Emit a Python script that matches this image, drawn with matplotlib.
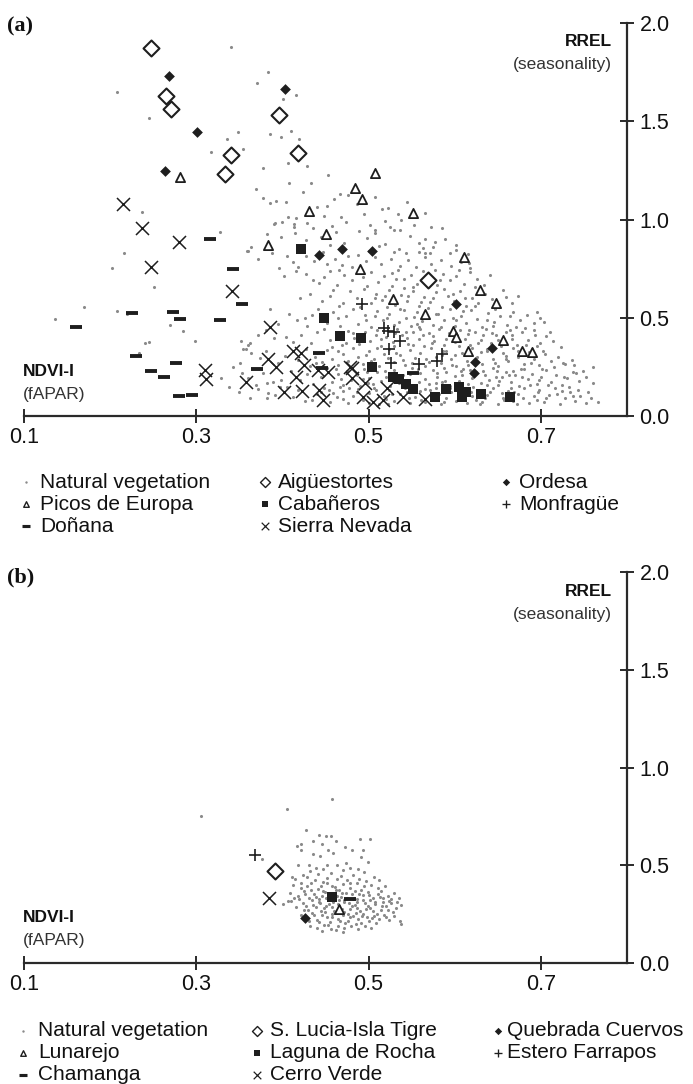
import numpy as np
import matplotlib.pyplot as plt

plt.rcParams['font.family'] = ['Liberation Sans', 'DejaVu Sans']

# ---------------- data, panel (a): Spain ----------------
nv_a = [
    (0.208, 1.65), (0.245, 1.515), (0.340, 1.876), (0.383, 1.752), (0.370, 1.695), (0.416, 1.634), (0.401, 1.613),
    (0.348, 1.444), (0.336, 1.41), (0.354, 1.359), (0.317, 1.342), (0.385, 1.435), (0.398, 1.418), (0.410, 1.452),
    (0.419, 1.408), (0.378, 1.264), (0.407, 1.286), (0.429, 1.272), (0.453, 1.228), (0.408, 1.184), (0.433, 1.184),
    (0.424, 1.138), (0.369, 1.153), (0.378, 1.111), (0.393, 1.096), (0.404, 1.091), (0.467, 1.128), (0.460, 1.103),
    (0.237, 1.04), (0.440, 1.065), (0.476, 1.125), (0.508, 1.116), (0.516, 1.051), (0.534, 1.028), (0.538, 1.0),
    (0.566, 1.031), (0.572, 0.963), (0.385, 1.082), (0.216, 0.828), (0.202, 0.752), (0.251, 0.658), (0.170, 0.556),
    (0.208, 0.536), (0.136, 0.494), (0.220, 0.518), (0.241, 0.373), (0.245, 0.375), (0.234, 0.322), (0.269, 0.463),
    (0.285, 0.433), (0.298, 0.382), (0.327, 0.938), (0.329, 0.195), (0.338, 0.149), (0.352, 0.383), (0.362, 0.37),
    (0.358, 0.34), (0.383, 0.115), (0.397, 0.149),
    # 0.95 - 1.1
    (0.452, 1.07), (0.487, 1.08), (0.523, 1.06), (0.545, 1.09), (0.406, 1.014), (0.416, 1.009), (0.391, 0.98),
    (0.400, 0.985), (0.413, 0.963), (0.428, 0.98), (0.468, 1.011), (0.474, 0.985), (0.390, 0.977), (0.414, 0.976),
    (0.448, 1.02), (0.458, 0.965), (0.495, 1.03), (0.519, 0.99), (0.553, 0.97), (0.585, 0.955), (0.502, 0.97),
    (0.436, 0.955),
    # 0.85 - 0.95
    (0.489, 0.943), (0.507, 0.947), (0.507, 0.93), (0.525, 0.963), (0.530, 0.947), (0.536, 0.947), (0.364, 0.862),
    (0.360, 0.838), (0.519, 0.875), (0.535, 0.848), (0.544, 0.831), (0.563, 0.853), (0.566, 0.831), (0.575, 0.862),
    (0.577, 0.887), (0.566, 0.899), (0.398, 0.91), (0.415, 0.93), (0.427, 0.895), (0.445, 0.91), (0.462, 0.935),
    (0.471, 0.88), (0.498, 0.905), (0.512, 0.865), (0.548, 0.915), (0.558, 0.88), (0.589, 0.9), (0.601, 0.87),
    (0.455, 0.87), (0.382, 0.925),
    # 0.75 - 0.85
    (0.594, 0.828), (0.602, 0.845), (0.427, 0.816), (0.476, 0.816), (0.488, 0.819), (0.359, 0.841), (0.412, 0.785),
    (0.396, 0.752), (0.469, 0.768), (0.455, 0.738), (0.372, 0.80), (0.388, 0.83), (0.405, 0.815), (0.418, 0.76),
    (0.437, 0.79), (0.447, 0.835), (0.461, 0.80), (0.497, 0.79), (0.508, 0.81), (0.515, 0.775), (0.526, 0.80),
    (0.537, 0.765), (0.546, 0.795), (0.555, 0.76), (0.565, 0.81), (0.573, 0.775), (0.584, 0.795), (0.596, 0.765),
    (0.607, 0.785), (0.618, 0.755), (0.481, 0.76), (0.452, 0.775), (0.529, 0.835), (0.501, 0.84), (0.559, 0.835),
    (0.615, 0.825),
    # 0.65 - 0.75
    (0.416, 0.738), (0.436, 0.692), (0.442, 0.678), (0.402, 0.71), (0.427, 0.725), (0.448, 0.705), (0.463, 0.665),
    (0.472, 0.72), (0.481, 0.69), (0.493, 0.705), (0.503, 0.735), (0.511, 0.68), (0.518, 0.715), (0.527, 0.66),
    (0.534, 0.745), (0.541, 0.695), (0.549, 0.72), (0.556, 0.67), (0.563, 0.74), (0.571, 0.705), (0.579, 0.665),
    (0.586, 0.725), (0.594, 0.69), (0.602, 0.715), (0.611, 0.67), (0.618, 0.735), (0.626, 0.695), (0.634, 0.665),
    (0.641, 0.72), (0.498, 0.66), (0.532, 0.695), (0.577, 0.745), (0.605, 0.745), (0.466, 0.745), (0.552, 0.655),
    (0.623, 0.655), (0.656, 0.64), (0.673, 0.61),
    # 0.55 - 0.65
    (0.459, 0.641), (0.470, 0.573), (0.420, 0.599), (0.432, 0.62), (0.446, 0.585), (0.455, 0.61), (0.478, 0.635),
    (0.486, 0.60), (0.495, 0.645), (0.503, 0.575), (0.509, 0.62), (0.516, 0.59), (0.524, 0.64), (0.531, 0.565),
    (0.538, 0.615), (0.545, 0.585), (0.551, 0.635), (0.558, 0.56), (0.564, 0.605), (0.571, 0.58), (0.578, 0.63),
    (0.585, 0.555), (0.592, 0.61), (0.599, 0.585), (0.606, 0.635), (0.613, 0.56), (0.620, 0.60), (0.627, 0.575),
    (0.635, 0.62), (0.643, 0.595), (0.651, 0.555), (0.659, 0.605), (0.667, 0.575), (0.490, 0.555), (0.541, 0.65),
    (0.588, 0.645), (0.466, 0.56), (0.521, 0.555), (0.575, 0.60), (0.612, 0.60), (0.630, 0.64), (0.546, 0.61),
    (0.507, 0.60),
    # 0.45 - 0.55
    (0.426, 0.497), (0.434, 0.514), (0.386, 0.543), (0.429, 0.458), (0.395, 0.47), (0.408, 0.52), (0.417, 0.49),
    (0.441, 0.545), (0.452, 0.475), (0.459, 0.53), (0.467, 0.46), (0.474, 0.51), (0.482, 0.545), (0.488, 0.47),
    (0.496, 0.515), (0.503, 0.455), (0.510, 0.535), (0.517, 0.49), (0.524, 0.52), (0.530, 0.465), (0.537, 0.545),
    (0.543, 0.50), (0.549, 0.46), (0.556, 0.53), (0.562, 0.485), (0.569, 0.55), (0.575, 0.465), (0.581, 0.52),
    (0.588, 0.49), (0.594, 0.545), (0.600, 0.46), (0.607, 0.51), (0.613, 0.475), (0.619, 0.54), (0.626, 0.495),
    (0.632, 0.455), (0.639, 0.525), (0.646, 0.48), (0.653, 0.51), (0.661, 0.465), (0.668, 0.53), (0.676, 0.49),
    (0.684, 0.515), (0.692, 0.475), (0.699, 0.50), (0.521, 0.50), (0.553, 0.505), (0.584, 0.455), (0.610, 0.535),
    (0.647, 0.545), (0.671, 0.455), (0.497, 0.49), (0.465, 0.50), (0.535, 0.48), (0.598, 0.50), (0.637, 0.49),
    (0.558, 0.455), (0.695, 0.53), (0.704, 0.48),
    # 0.35 - 0.45
    (0.404, 0.404), (0.412, 0.378), (0.422, 0.412), (0.440, 0.426), (0.390, 0.395), (0.360, 0.361), (0.372, 0.41),
    (0.381, 0.44), (0.433, 0.37), (0.448, 0.445), (0.455, 0.385), (0.462, 0.42), (0.469, 0.36), (0.476, 0.435),
    (0.483, 0.395), (0.489, 0.365), (0.496, 0.43), (0.502, 0.38), (0.509, 0.41), (0.515, 0.355), (0.520, 0.40),
    (0.528, 0.375), (0.533, 0.445), (0.539, 0.41), (0.546, 0.365), (0.552, 0.43), (0.558, 0.39), (0.564, 0.355),
    (0.570, 0.42), (0.576, 0.38), (0.582, 0.445), (0.588, 0.36), (0.594, 0.41), (0.600, 0.375), (0.606, 0.44),
    (0.612, 0.39), (0.618, 0.36), (0.624, 0.425), (0.630, 0.385), (0.636, 0.445), (0.642, 0.37), (0.648, 0.41),
    (0.654, 0.355), (0.660, 0.43), (0.666, 0.39), (0.672, 0.36), (0.678, 0.425), (0.685, 0.385), (0.692, 0.44),
    (0.699, 0.37), (0.706, 0.405), (0.714, 0.38), (0.545, 0.395), (0.575, 0.405), (0.605, 0.355), (0.633, 0.41),
    (0.664, 0.44), (0.510, 0.44), (0.482, 0.42), (0.560, 0.445), (0.590, 0.39), (0.615, 0.415), (0.650, 0.385),
    (0.530, 0.355), (0.695, 0.355), (0.458, 0.35),
    # 0.25 - 0.35
    (0.364, 0.319), (0.354, 0.339), (0.351, 0.268), (0.374, 0.294), (0.343, 0.251), (0.381, 0.33), (0.395, 0.27),
    (0.403, 0.305), (0.418, 0.285), (0.427, 0.34), (0.432, 0.255), (0.438, 0.30), (0.446, 0.275), (0.452, 0.335),
    (0.458, 0.29), (0.464, 0.26), (0.470, 0.315), (0.476, 0.28), (0.482, 0.345), (0.488, 0.30), (0.494, 0.265),
    (0.500, 0.33), (0.506, 0.29), (0.512, 0.255), (0.518, 0.315), (0.524, 0.34), (0.530, 0.275), (0.536, 0.31),
    (0.542, 0.26), (0.548, 0.335), (0.554, 0.295), (0.560, 0.32), (0.566, 0.255), (0.572, 0.345), (0.578, 0.30),
    (0.584, 0.27), (0.590, 0.33), (0.596, 0.29), (0.602, 0.255), (0.608, 0.32), (0.614, 0.28), (0.620, 0.345),
    (0.626, 0.30), (0.632, 0.265), (0.638, 0.33), (0.644, 0.29), (0.650, 0.255), (0.656, 0.32), (0.662, 0.28),
    (0.668, 0.345), (0.674, 0.30), (0.680, 0.265), (0.686, 0.325), (0.692, 0.29), (0.698, 0.26), (0.705, 0.315),
    (0.712, 0.28), (0.720, 0.30), (0.728, 0.265), (0.736, 0.285), (0.510, 0.345), (0.540, 0.285), (0.570, 0.275),
    (0.600, 0.31), (0.630, 0.325), (0.660, 0.305), (0.690, 0.34), (0.615, 0.26), (0.585, 0.31), (0.550, 0.27),
    (0.523, 0.295), (0.497, 0.31), (0.465, 0.33), (0.440, 0.32), (0.726, 0.27), (0.760, 0.25),
    # 0.15 - 0.25
    (0.378, 0.217), (0.353, 0.217), (0.360, 0.192), (0.369, 0.158), (0.382, 0.166), (0.389, 0.175), (0.398, 0.183),
    (0.405, 0.149), (0.467, 0.149), (0.410, 0.23), (0.420, 0.185), (0.428, 0.215), (0.436, 0.165), (0.445, 0.20),
    (0.452, 0.245), (0.458, 0.175), (0.464, 0.215), (0.470, 0.16), (0.475, 0.23), (0.480, 0.185), (0.486, 0.21),
    (0.490, 0.155), (0.495, 0.24), (0.500, 0.195), (0.505, 0.165), (0.510, 0.225), (0.515, 0.18), (0.520, 0.20),
    (0.525, 0.155), (0.530, 0.235), (0.535, 0.17), (0.540, 0.21), (0.545, 0.185), (0.550, 0.245), (0.555, 0.16),
    (0.560, 0.22), (0.565, 0.19), (0.570, 0.165), (0.575, 0.235), (0.580, 0.20), (0.585, 0.175), (0.590, 0.225),
    (0.595, 0.155), (0.600, 0.205), (0.605, 0.18), (0.610, 0.24), (0.615, 0.165), (0.620, 0.195), (0.625, 0.225),
    (0.630, 0.17), (0.635, 0.21), (0.640, 0.185), (0.645, 0.245), (0.650, 0.16), (0.655, 0.20), (0.660, 0.225),
    (0.665, 0.175), (0.670, 0.21), (0.675, 0.155), (0.680, 0.24), (0.685, 0.19), (0.690, 0.215), (0.695, 0.165),
    (0.700, 0.20), (0.706, 0.235), (0.712, 0.175), (0.718, 0.21), (0.724, 0.16), (0.730, 0.195), (0.737, 0.225),
    (0.744, 0.18), (0.752, 0.20), (0.760, 0.17), (0.548, 0.215), (0.578, 0.17), (0.608, 0.21), (0.638, 0.16),
    (0.668, 0.23), (0.698, 0.185), (0.528, 0.19), (0.498, 0.225), (0.468, 0.19), (0.588, 0.245), (0.618, 0.235),
    (0.648, 0.20), (0.678, 0.20), (0.558, 0.175), (0.741, 0.22),
    # 0.05 - 0.15
    (0.350, 0.12), (0.362, 0.09), (0.372, 0.135), (0.382, 0.09), (0.391, 0.107), (0.412, 0.098), (0.434, 0.081),
    (0.459, 0.116), (0.418, 0.13), (0.426, 0.075), (0.440, 0.11), (0.448, 0.14), (0.455, 0.07), (0.463, 0.095),
    (0.470, 0.125), (0.476, 0.065), (0.482, 0.10), (0.488, 0.135), (0.494, 0.08), (0.500, 0.115), (0.506, 0.145),
    (0.512, 0.06), (0.518, 0.10), (0.524, 0.13), (0.530, 0.075), (0.536, 0.11), (0.542, 0.145), (0.548, 0.065),
    (0.554, 0.095), (0.560, 0.125), (0.566, 0.07), (0.572, 0.105), (0.578, 0.14), (0.584, 0.06), (0.590, 0.09),
    (0.596, 0.12), (0.602, 0.075), (0.608, 0.145), (0.614, 0.065), (0.620, 0.10), (0.626, 0.13), (0.632, 0.07),
    (0.638, 0.105), (0.644, 0.14), (0.650, 0.06), (0.656, 0.09), (0.662, 0.125), (0.668, 0.075), (0.674, 0.11),
    (0.680, 0.145), (0.686, 0.065), (0.692, 0.10), (0.698, 0.13), (0.704, 0.07), (0.710, 0.105), (0.716, 0.14),
    (0.722, 0.06), (0.728, 0.09), (0.734, 0.12), (0.740, 0.075), (0.746, 0.10), (0.752, 0.065), (0.758, 0.09),
    (0.766, 0.07), (0.520, 0.085), (0.545, 0.12), (0.575, 0.085), (0.605, 0.11), (0.635, 0.09), (0.665, 0.14),
    (0.695, 0.08), (0.725, 0.125), (0.500, 0.065), (0.470, 0.085), (0.445, 0.12), (0.565, 0.135), (0.595, 0.145),
    (0.625, 0.08), (0.655, 0.115),
    # extra dots in the dense core
    (0.487, 0.12), (0.493, 0.19), (0.503, 0.28), (0.509, 0.13), (0.514, 0.39), (0.519, 0.23), (0.527, 0.11),
    (0.532, 0.32), (0.538, 0.19), (0.543, 0.43), (0.547, 0.09), (0.551, 0.36), (0.557, 0.24), (0.561, 0.08),
    (0.563, 0.41), (0.567, 0.29), (0.571, 0.13), (0.574, 0.37), (0.579, 0.22), (0.582, 0.11), (0.586, 0.33),
    (0.589, 0.18), (0.593, 0.42), (0.597, 0.26), (0.601, 0.135), (0.603, 0.38), (0.607, 0.23), (0.611, 0.09),
    (0.613, 0.31), (0.617, 0.44), (0.621, 0.15), (0.623, 0.27), (0.627, 0.37), (0.629, 0.06), (0.633, 0.23),
    (0.637, 0.34), (0.641, 0.12), (0.643, 0.42), (0.647, 0.27), (0.651, 0.18), (0.653, 0.37), (0.657, 0.08),
    (0.659, 0.29), (0.663, 0.21), (0.667, 0.41), (0.669, 0.12), (0.673, 0.33), (0.677, 0.24), (0.679, 0.09),
    (0.683, 0.36), (0.687, 0.16), (0.689, 0.27), (0.693, 0.41), (0.697, 0.12), (0.701, 0.24), (0.703, 0.33),
    (0.708, 0.16), (0.711, 0.43), (0.715, 0.25), (0.719, 0.11), (0.723, 0.35), (0.727, 0.20), (0.733, 0.15),
    (0.739, 0.26), (0.743, 0.13), (0.749, 0.23), (0.755, 0.12), (0.531, 0.42), (0.556, 0.47), (0.578, 0.52),
    (0.602, 0.49), (0.624, 0.56), (0.644, 0.46), (0.664, 0.51), (0.682, 0.45), (0.561, 0.58), (0.598, 0.62),
    (0.541, 0.54), (0.519, 0.61), (0.583, 0.69), (0.617, 0.78), (0.527, 0.73), (0.571, 0.83), (0.507, 0.51),
    (0.492, 0.41), (0.474, 0.37), (0.462, 0.24), (0.454, 0.13), (0.439, 0.27), (0.477, 0.14), (0.499, 0.17),
    (0.523, 0.06), (0.553, 0.14), (0.587, 0.07), (0.619, 0.12), (0.649, 0.23), (0.672, 0.06), (0.706, 0.09),
    (0.737, 0.10),
]
aiguestortes = [(0.248, 1.874), (0.265, 1.63), (0.271, 1.56), (0.396, 1.53), (0.418, 1.34), (0.340, 1.327),
                (0.333, 1.23), (0.569, 0.692)]
ordesa = [(0.268, 1.73), (0.403, 1.664), (0.301, 1.447), (0.264, 1.248), (0.442, 0.82), (0.469, 0.848),
          (0.504, 0.841), (0.601, 0.57), (0.643, 0.344), (0.624, 0.273), (0.622, 0.217)]
picos = [(0.281, 1.218), (0.431, 1.045), (0.508, 1.235), (0.484, 1.159), (0.492, 1.104), (0.551, 1.031),
         (0.450, 0.926), (0.383, 0.869), (0.611, 0.809), (0.490, 0.748), (0.528, 0.597), (0.629, 0.641),
         (0.648, 0.573), (0.565, 0.519), (0.598, 0.431), (0.602, 0.402), (0.656, 0.387), (0.616, 0.332),
         (0.678, 0.332), (0.690, 0.326)]
cabaneros = [(0.422, 0.85), (0.448, 0.497), (0.467, 0.407), (0.491, 0.397), (0.504, 0.248), (0.528, 0.197),
             (0.535, 0.187), (0.544, 0.163), (0.552, 0.136), (0.577, 0.098), (0.590, 0.136), (0.605, 0.149),
             (0.613, 0.122), (0.608, 0.098), (0.631, 0.112), (0.664, 0.095)]
monfrague = [(0.492, 0.57), (0.518, 0.446), (0.523, 0.434), (0.529, 0.429), (0.537, 0.38), (0.524, 0.339),
             (0.526, 0.271), (0.559, 0.265), (0.579, 0.28), (0.585, 0.316)]
donana = [(0.316, 0.902), (0.343, 0.748), (0.353, 0.568), (0.327, 0.489), (0.273, 0.531), (0.281, 0.494),
          (0.225, 0.522), (0.160, 0.451), (0.230, 0.305), (0.247, 0.231), (0.263, 0.197), (0.276, 0.268),
          (0.280, 0.102), (0.295, 0.107), (0.442, 0.319), (0.371, 0.238), (0.552, 0.220), (0.446, 0.242)]
sierra_nevada = [(0.215, 1.079), (0.237, 0.955), (0.280, 0.884), (0.247, 0.760), (0.342, 0.636), (0.385, 0.454),
                 (0.310, 0.234), (0.311, 0.188), (0.358, 0.173), (0.383, 0.288), (0.392, 0.251), (0.412, 0.332),
                 (0.421, 0.319), (0.425, 0.26), (0.416, 0.200), (0.402, 0.121), (0.423, 0.127), (0.441, 0.234),
                 (0.453, 0.226), (0.443, 0.132), (0.447, 0.081), (0.481, 0.243), (0.481, 0.195), (0.496, 0.166),
                 (0.493, 0.098), (0.505, 0.073), (0.517, 0.081), (0.521, 0.141), (0.540, 0.098), (0.565, 0.085),
                 (0.478, 0.248)]

# ---------------- data, panel (b): Uruguay ----------------
nv_b = [
    (0.306, 0.75), (0.405, 0.788), (0.457, 0.841), (0.376, 0.532),
    (0.427, 0.679), (0.443, 0.657), (0.450, 0.648), (0.456, 0.648), (0.462, 0.622), (0.417, 0.596), (0.422, 0.61),
    (0.436, 0.622), (0.446, 0.61), (0.473, 0.592), (0.481, 0.576), (0.490, 0.634), (0.502, 0.634), (0.494, 0.576),
    (0.499, 0.516), (0.491, 0.542), (0.422, 0.576), (0.435, 0.559), (0.444, 0.549), (0.453, 0.576), (0.459, 0.562),
    (0.474, 0.511), (0.418, 0.50), (0.431, 0.50), (0.439, 0.486), (0.447, 0.481), (0.452, 0.502), (0.463, 0.50),
    (0.470, 0.477), (0.478, 0.486), (0.488, 0.481), (0.411, 0.438), (0.424, 0.452), (0.432, 0.469),
    # core
    (0.415, 0.43), (0.428, 0.44), (0.441, 0.455), (0.456, 0.46), (0.468, 0.445), (0.482, 0.45), (0.495, 0.465),
    (0.506, 0.44), (0.438, 0.425), (0.452, 0.435), (0.475, 0.425), (0.489, 0.43), (0.512, 0.425),
    (0.412, 0.40), (0.421, 0.385), (0.433, 0.41), (0.445, 0.395), (0.452, 0.41), (0.461, 0.39), (0.470, 0.405),
    (0.478, 0.385), (0.486, 0.41), (0.495, 0.395), (0.503, 0.40), (0.511, 0.385), (0.519, 0.395), (0.441, 0.38),
    (0.466, 0.375), (0.491, 0.375), (0.428, 0.395),
    (0.409, 0.36), (0.418, 0.345), (0.425, 0.37), (0.431, 0.335), (0.437, 0.355), (0.443, 0.325), (0.449, 0.365),
    (0.463, 0.345), (0.469, 0.36), (0.475, 0.335), (0.481, 0.355), (0.487, 0.325), (0.493, 0.35), (0.499, 0.365),
    (0.505, 0.335), (0.511, 0.355), (0.517, 0.33), (0.523, 0.345), (0.529, 0.36), (0.535, 0.33), (0.446, 0.345),
    (0.472, 0.32), (0.484, 0.37), (0.502, 0.32), (0.514, 0.37), (0.458, 0.325), (0.434, 0.32), (0.526, 0.325),
    (0.401, 0.30), (0.410, 0.315), (0.416, 0.285), (0.424, 0.305), (0.430, 0.27), (0.436, 0.295), (0.442, 0.31),
    (0.448, 0.28), (0.454, 0.30), (0.460, 0.265), (0.466, 0.29), (0.472, 0.31), (0.478, 0.275), (0.484, 0.295),
    (0.490, 0.265), (0.496, 0.305), (0.502, 0.28), (0.508, 0.30), (0.514, 0.27), (0.520, 0.29), (0.526, 0.305),
    (0.532, 0.28), (0.538, 0.295), (0.445, 0.265), (0.469, 0.275), (0.487, 0.31), (0.505, 0.265), (0.523, 0.27),
    (0.439, 0.285), (0.457, 0.285), (0.481, 0.29), (0.499, 0.29), (0.517, 0.31), (0.427, 0.29),
    (0.422, 0.245), (0.428, 0.23), (0.434, 0.255), (0.440, 0.22), (0.446, 0.245), (0.452, 0.235), (0.458, 0.25),
    (0.464, 0.225), (0.470, 0.245), (0.476, 0.215), (0.482, 0.24), (0.488, 0.225), (0.494, 0.25), (0.500, 0.215),
    (0.506, 0.24), (0.512, 0.225), (0.518, 0.245), (0.524, 0.22), (0.530, 0.24), (0.537, 0.215), (0.538, 0.20),
    (0.455, 0.21), (0.473, 0.205), (0.491, 0.205), (0.509, 0.205), (0.461, 0.255), (0.485, 0.255),
    (0.432, 0.19), (0.440, 0.18), (0.448, 0.195), (0.456, 0.175), (0.464, 0.19), (0.472, 0.18), (0.480, 0.19),
    (0.488, 0.175), (0.496, 0.19), (0.503, 0.18), (0.446, 0.165), (0.462, 0.17), (0.470, 0.16),
    (0.419, 0.325), (0.426, 0.355), (0.433, 0.375), (0.439, 0.34), (0.444, 0.305), (0.447, 0.37), (0.451, 0.29),
    (0.455, 0.355), (0.459, 0.31), (0.462, 0.375), (0.465, 0.30), (0.468, 0.34), (0.471, 0.26), (0.474, 0.36),
    (0.477, 0.305), (0.479, 0.235), (0.483, 0.335), (0.486, 0.28), (0.489, 0.355), (0.492, 0.24), (0.494, 0.32),
    (0.497, 0.275), (0.501, 0.35), (0.504, 0.23), (0.507, 0.31), (0.510, 0.25), (0.513, 0.34), (0.516, 0.29),
    (0.520, 0.235), (0.524, 0.315), (0.528, 0.26), (0.533, 0.31), (0.437, 0.245), (0.443, 0.21), (0.449, 0.26),
    (0.453, 0.195), (0.458, 0.235), (0.467, 0.215), (0.476, 0.25), (0.485, 0.20), (0.498, 0.235), (0.431, 0.215),
    (0.425, 0.27), (0.413, 0.33), (0.407, 0.315), (0.421, 0.41), (0.447, 0.415), (0.463, 0.43), (0.479, 0.41),
    (0.497, 0.42), (0.458, 0.395), (0.482, 0.325), (0.466, 0.32), (0.450, 0.33),
]
slucia = [(0.391, 0.47)]
quebrada = [(0.426, 0.232)]
lunarejo = [(0.466, 0.277)]
laguna = [(0.457, 0.336)]
estero = [(0.368, 0.553)]
chamanga = [(0.479, 0.325)]
cerro_verde = [(0.384, 0.335)]

xticks = [0.1, 0.3, 0.5, 0.7]
yticks = [0.0, 0.5, 1.0, 1.5, 2.0]

INK = '#1e1e1e'
DOT = '#8a8a8a'

# marker styles: (marker, size, filled, linewidth)
styles = {
    'dot': ('o', 5, True, 0),
    'open_diamond': ('D', 66, False, 1.5),
    'filled_diamond': ('D', 30, True, 0),
    'triangle': ('^', 44, False, 1.3),
    'square': ('s', 44, True, 0),
    'plus': ('+', 70, True, 1.2),
    'dash': ('_', 70, True, 2.8),
    'cross': ('x', 88, True, 1.1),
}


def draw(ax, pts, key, color=INK, z=3):
    arr = np.array(pts)
    m, s, filled, lw = styles[key]
    if key == 'dot':
        ax.scatter(arr[:, 0], arr[:, 1], s=s, marker=m, c=color, linewidths=0, zorder=1)
    elif m in ('+', '_', 'x'):
        ax.scatter(arr[:, 0], arr[:, 1], s=s, marker=m, c=color, linewidths=lw, zorder=z)
    elif filled:
        ax.scatter(arr[:, 0], arr[:, 1], s=s, marker=m, c=color, linewidths=0, zorder=z)
    else:
        ax.scatter(arr[:, 0], arr[:, 1], s=s, marker=m, facecolors='white', edgecolors=color,
                   linewidths=lw, zorder=z)


def style_axes(ax):
    ax.set_xlim(0.1, 0.8)
    ax.set_ylim(0, 2)
    ax.spines['top'].set_visible(False)
    ax.spines['left'].set_visible(False)
    for s in ['bottom', 'right']:
        ax.spines[s].set_linewidth(1.6)
        ax.spines[s].set_color('#2a2a2a')
    ax.yaxis.tick_right()
    ax.set_xticks(xticks)
    ax.set_xticklabels([f'{v:.1f}' for v in xticks])
    ax.set_yticks(yticks)
    ax.set_yticklabels([f'{v:.1f}' for v in yticks])
    ax.tick_params(direction='inout', length=10, width=1.4, color='#2a2a2a',
                   labelcolor='#111111', labelsize=15.5)
    ax.tick_params(axis='x', pad=3)
    ax.tick_params(axis='y', pad=4)
    ax.patch.set_alpha(0)


fig = plt.figure(figsize=(6.93, 10.84), dpi=100)
W, H = 693, 1084


def axes_rect(x0, x1, ytop, ybot):
    return [x0 / W, 1 - ybot / H, (x1 - x0) / W, (ybot - ytop) / H]


ax_a = fig.add_axes(axes_rect(24, 627, 23, 416))
ax_b = fig.add_axes(axes_rect(24, 627, 572, 963))
lay = fig.add_axes([0, 0, 1, 1])
lay.set_xlim(0, W)
lay.set_ylim(H, 0)
lay.axis('off')
lay.patch.set_alpha(0)

# panel (a)
draw(ax_a, nv_a, 'dot', DOT)
draw(ax_a, donana, 'dash')
draw(ax_a, sierra_nevada, 'cross')
draw(ax_a, monfrague, 'plus')
draw(ax_a, picos, 'triangle')
draw(ax_a, cabaneros, 'square')
draw(ax_a, aiguestortes, 'open_diamond')
draw(ax_a, ordesa, 'filled_diamond')
style_axes(ax_a)

# panel (b)
draw(ax_b, nv_b, 'dot', DOT)
draw(ax_b, cerro_verde, 'cross')
draw(ax_b, estero, 'plus')
draw(ax_b, chamanga, 'dash')
draw(ax_b, lunarejo, 'triangle')
draw(ax_b, laguna, 'square')
draw(ax_b, slucia, 'open_diamond')
draw(ax_b, quebrada, 'filled_diamond')
style_axes(ax_b)

# panel letters and axis captions
for ytop, lab in [(26, '(a)'), (577, '(b)')]:
    lay.text(7, ytop, lab, family='Liberation Serif', fontweight='bold', fontsize=16,
             ha='left', va='center', color='#111111')
for y_rrel, y_ndvi in [(42, 372), (591, 917)]:
    lay.text(612, y_rrel, 'RREL', fontweight='bold', fontsize=12.5, ha='right', va='center', color='#111111')
    lay.text(612, y_rrel + 23, '(seasonality)', fontsize=12.5, ha='right', va='center', color='#333333')
    lay.text(23, y_ndvi, 'NDVI-I', fontweight='bold', fontsize=12.5, ha='left', va='center', color='#111111')
    lay.text(23, y_ndvi + 23, '(fAPAR)', fontsize=12.5, ha='left', va='center', color='#333333')

# legends (drawn by hand in three fixed columns)
leg_a = [
    ('dot', 'Natural vegetation', 0, 0), ('triangle', 'Picos de Europa', 0, 1), ('dash', 'Doñana', 0, 2),
    ('open_diamond', 'Aigüestortes', 1, 0), ('square', 'Cabañeros', 1, 1), ('cross', 'Sierra Nevada', 1, 2),
    ('filled_diamond', 'Ordesa', 2, 0), ('plus', 'Monfragüe', 2, 1),
]
leg_b = [
    ('dot', 'Natural vegetation', 0, 0), ('triangle', 'Lunarejo', 0, 1), ('dash', 'Chamanga', 0, 2),
    ('open_diamond', 'S. Lucia-Isla Tigre', 1, 0), ('square', 'Laguna de Rocha', 1, 1),
    ('cross', 'Cerro Verde', 1, 2),
    ('filled_diamond', 'Quebrada Cuervos', 2, 0), ('plus', 'Estero Farrapos', 2, 1),
]
leg_size = {'dot': 3, 'open_diamond': 26, 'filled_diamond': 14, 'triangle': 16, 'square': 18,
            'plus': 34, 'dash': 26, 'cross': 30}
for entries, rows, cols in [(leg_a, [482, 504, 526], [(26, 40), (265, 278), (506, 519)]),
                            (leg_b, [1031, 1053, 1075], [(23, 38), (257, 270), (498, 507)])]:
    for key, label, c, r in entries:
        mx, tx = cols[c]
        y = rows[r]
        m, s, filled, lw = styles[key]
        col = DOT if key == 'dot' else INK
        if m in ('+', '_', 'x'):
            lay.scatter([mx], [y], s=leg_size[key], marker=m, c=col, linewidths=lw * 0.8)
        elif filled:
            lay.scatter([mx], [y], s=leg_size[key], marker=m, c=col, linewidths=0)
        else:
            lay.scatter([mx], [y], s=leg_size[key], marker=m, facecolors='white', edgecolors=col,
                        linewidths=1.0)
        lay.text(tx, y, label, fontsize=15, ha='left', va='center', color='#111111')

fig.savefig('out.png', dpi=100)
